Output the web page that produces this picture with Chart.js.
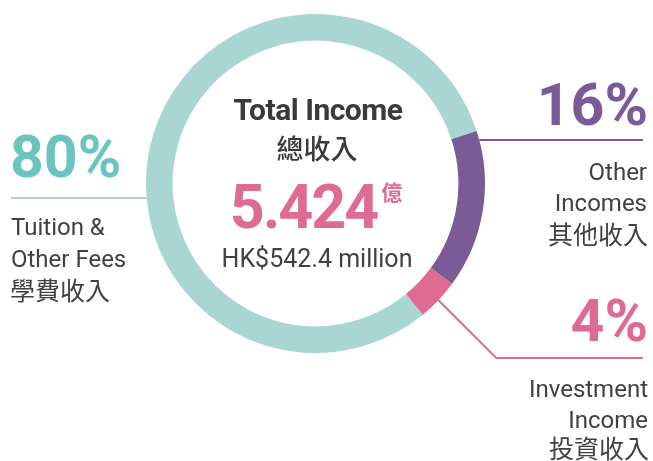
<!DOCTYPE html>
<html>
<head>
<meta charset="utf-8">
<script src="https://cdn.jsdelivr.net/npm/chart.js@4.4.0/dist/chart.umd.min.js"></script>
<style>
    html, body { margin: 0; padding: 0; background: #ffffff; }
    canvas { display: block; }
</style>
</head>
<body>
<canvas id="grafico" width="653" height="461"></canvas>
<script>
// datos del grafico (porcentaje del total)
const categorias = ["Tuition & Other Fees", "Other Incomes", "Investment Income"];
const valores = [80.9, 15.1, 4.0];
const porcentajes = ["80%", "16%", "4%"];
const etiquetasEn = [["Tuition &", "Other Fees"], ["Other", "Incomes"], ["Investment", "Income"]];
const etiquetasZh = ["學費收入", "其他收入", "投資收入"];
const tituloEn = "Total Income";
const tituloZh = "總收入";
const totalValor = "5.424";
const totalUnidad = "億";
const totalMillones = "HK$542.4 million";

const colorAnillo = ["#a9d5d3", "#7a5b98", "#e06b92"];
const colorTexto = ["#6cc4c0", "#7a5b98", "#e06b92"];
const gris = "#444040";
const LATIN = "Roboto, 'Noto Sans', sans-serif";
const CJK = "'Noto Sans CJK TC', 'Noto Sans CJK SC', sans-serif";

// punto sobre el borde exterior del anillo a una altura y
function xEnAnillo(arc, y, lado) {
    const dy = y - arc.y;
    return arc.x + lado * Math.sqrt(arc.outerRadius * arc.outerRadius - dy * dy);
}

const textos = {
    id: "textos",
    afterDraw(chart) {
        const ctx = chart.ctx;
        const arcs = chart.getDatasetMeta(0).data;
        ctx.save();
        ctx.textBaseline = "alphabetic";

        // --- centro ---
        ctx.textAlign = "center";
        ctx.fillStyle = "#3d3939";
        ctx.font = "bold 30px " + LATIN;
        ctx.letterSpacing = "-0.5px";
        ctx.fillText(tituloEn, 318, 120);
        ctx.letterSpacing = "0px";
        ctx.font = "500 27px " + CJK;
        ctx.fillText(tituloZh, 317, 159);

        ctx.textAlign = "left";
        ctx.fillStyle = colorTexto[2];
        ctx.font = "bold 61px " + LATIN;
        ctx.letterSpacing = "-2px";
        const w = ctx.measureText(totalValor).width;
        ctx.letterSpacing = "0px";
        ctx.font = "bold 21px " + CJK;
        const wu = ctx.measureText(totalUnidad).width;
        const x0 = 316 - (w + 4 + wu) / 2;
        ctx.font = "bold 61px " + LATIN;
        ctx.letterSpacing = "-2px";
        ctx.fillText(totalValor, x0, 228);
        ctx.letterSpacing = "0px";
        ctx.font = "bold 21px " + CJK;
        ctx.fillText(totalUnidad, x0 + w + 4, 200);

        ctx.textAlign = "center";
        ctx.fillStyle = gris;
        ctx.font = "25px " + LATIN;
        ctx.fillText(totalMillones, 317, 267);

        // --- izquierda: matricula ---
        ctx.textAlign = "left";
        ctx.fillStyle = colorTexto[0];
        ctx.font = "bold 59px " + LATIN;
        ctx.fillText(porcentajes[0], 10, 177);
        ctx.strokeStyle = colorAnillo[0];
        ctx.lineWidth = 2;
        ctx.beginPath();
        ctx.moveTo(11, 198);
        ctx.lineTo(xEnAnillo(arcs[0], 198, -1), 198);
        ctx.stroke();
        ctx.fillStyle = gris;
        ctx.font = "24px " + LATIN;
        ctx.fillText(etiquetasEn[0][0], 11, 235);
        ctx.fillText(etiquetasEn[0][1], 11, 267);
        ctx.font = "25px " + CJK;
        ctx.fillText(etiquetasZh[0], 10, 300);

        // --- derecha arriba: otros ingresos ---
        ctx.textAlign = "right";
        ctx.fillStyle = colorTexto[1];
        ctx.font = "bold 59px " + LATIN;
        ctx.fillText(porcentajes[1], 648, 125);
        ctx.strokeStyle = colorAnillo[1];
        ctx.beginPath();
        ctx.moveTo(xEnAnillo(arcs[1], 140, 1), 140);
        ctx.lineTo(643, 140);
        ctx.stroke();
        ctx.fillStyle = gris;
        ctx.font = "24px " + LATIN;
        ctx.fillText(etiquetasEn[1][0], 647, 180);
        ctx.fillText(etiquetasEn[1][1], 647, 211);
        ctx.font = "25px " + CJK;
        ctx.fillText(etiquetasZh[1], 648, 244);

        // --- derecha abajo: inversiones ---
        ctx.fillStyle = colorTexto[2];
        ctx.font = "bold 59px " + LATIN;
        ctx.fillText(porcentajes[2], 648, 341);
        const a = arcs[2];
        const medio = (a.startAngle + a.endAngle) / 2;
        const px = a.x + Math.cos(medio) * a.outerRadius;
        const py = a.y + Math.sin(medio) * a.outerRadius;
        ctx.strokeStyle = colorAnillo[2];
        ctx.beginPath();
        ctx.moveTo(px, py);
        ctx.lineTo(px + (358 - py), 358);
        ctx.lineTo(643, 358);
        ctx.stroke();
        ctx.fillStyle = gris;
        ctx.font = "24px " + LATIN;
        ctx.fillText(etiquetasEn[2][0], 648, 397);
        ctx.fillText(etiquetasEn[2][1], 648, 428);
        ctx.font = "25px " + CJK;
        ctx.fillText(etiquetasZh[2], 649, 458);

        ctx.restore();
    }
};

new Chart(document.getElementById("grafico"), {
    type: "doughnut",
    data: {
        labels: categorias,
        datasets: [{
            data: valores,
            backgroundColor: colorAnillo,
            borderWidth: 0,
            hoverOffset: 0
        }]
    },
    options: {
        responsive: false,
        animation: false,
        rotation: 140.7,
        cutout: "84.3%",
        layout: {
            padding: { left: 146, right: 168, top: 14, bottom: 108 }
        },
        plugins: {
            legend: { display: false },
            tooltip: { enabled: false }
        }
    },
    plugins: [textos]
});
</script>
</body>
</html>
